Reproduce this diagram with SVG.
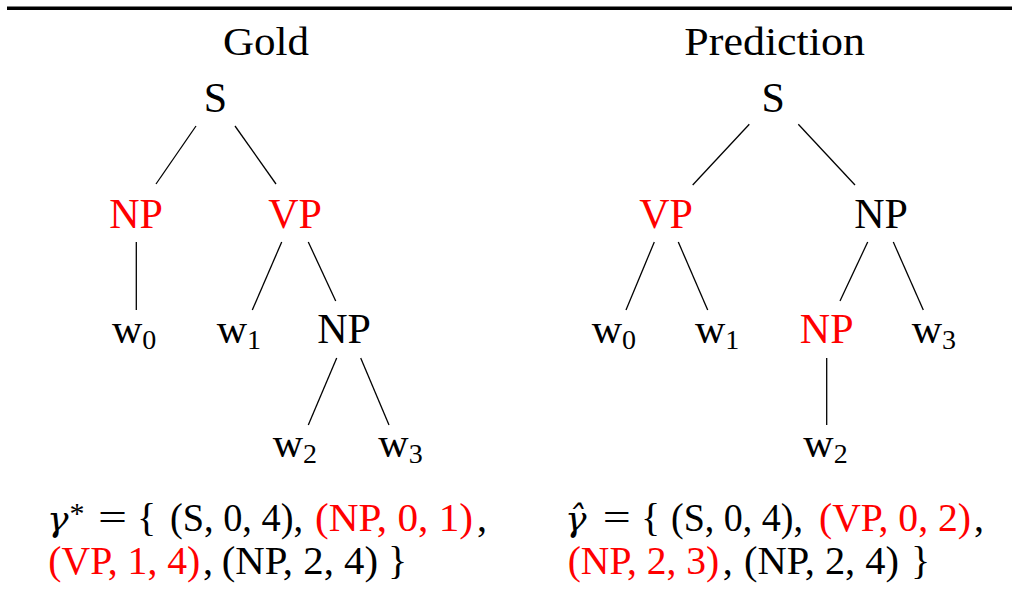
<svg xmlns="http://www.w3.org/2000/svg" width="1012" height="594" viewBox="0 0 1012 594">
<style>
text{font-family:"Liberation Serif","Times New Roman",serif;fill:#000}
.t{font-size:40px}
.n{font-size:42px;text-anchor:middle}
.w{font-size:42px}
.s{font-size:28px}
.r{fill:#ff0000}
.f{font-size:40px}
.g{font-size:36px;font-style:italic;font-family:"DejaVu Serif",serif}
.e{stroke:#000;stroke-width:1.3;fill:none}
</style>
<rect width="1012" height="594" fill="#fff"/>
<line x1="7" y1="8.3" x2="1012" y2="8.3" stroke="#000" stroke-width="3.4"/>
<text class="t" x="223" y="55" textLength="86" lengthAdjust="spacingAndGlyphs">Gold</text>
<text class="t" x="684.3" y="55" textLength="180.7" lengthAdjust="spacingAndGlyphs">Prediction</text>
<g id="connectors">
<line class="e" x1="196" y1="126" x2="156" y2="184"/>
<line class="e" x1="235" y1="126" x2="276" y2="184"/>
<line class="e" x1="136.3" y1="242" x2="136.3" y2="310"/>
<line class="e" x1="281.7" y1="242" x2="252.3" y2="310"/>
<line class="e" x1="308.3" y1="242" x2="335.7" y2="301"/>
<line class="e" x1="336.7" y1="358" x2="308.3" y2="425"/>
<line class="e" x1="360.7" y1="358" x2="389" y2="425"/>
<line class="e" x1="749.3" y1="124.3" x2="692.7" y2="185"/>
<line class="e" x1="798.3" y1="124.3" x2="855" y2="185"/>
<line class="e" x1="654.3" y1="242" x2="626" y2="310"/>
<line class="e" x1="678.3" y1="242" x2="707.7" y2="310"/>
<line class="e" x1="867.7" y1="242" x2="840" y2="301"/>
<line class="e" x1="893.3" y1="242" x2="923.3" y2="310"/>
<line class="e" x1="826.7" y1="358" x2="826.7" y2="425"/>
</g>
<g id="gold-S"><text class="n" x="215.5" y="112">S</text></g>
<g id="gold-NP1"><text class="n r" x="136" y="228">NP</text></g>
<g id="gold-VP"><text class="n r" x="295" y="228">VP</text></g>
<g id="gold-w0"><text class="w" x="112" y="343">w<tspan class="s" dy="6">0</tspan></text></g>
<g id="gold-w1"><text class="w" x="216.7" y="343">w<tspan class="s" dy="6">1</tspan></text></g>
<g id="gold-NP2"><text class="n" x="344" y="343">NP</text></g>
<g id="gold-w2"><text class="w" x="272.7" y="457">w<tspan class="s" dy="6">2</tspan></text></g>
<g id="gold-w3"><text class="w" x="378.3" y="457">w<tspan class="s" dy="6">3</tspan></text></g>
<g id="pred-S"><text class="n" x="773.3" y="112">S</text></g>
<g id="pred-VP"><text class="n r" x="666" y="228">VP</text></g>
<g id="pred-NP1"><text class="n" x="881" y="228">NP</text></g>
<g id="pred-w0"><text class="w" x="591.7" y="343">w<tspan class="s" dy="6">0</tspan></text></g>
<g id="pred-w1"><text class="w" x="695" y="343">w<tspan class="s" dy="6">1</tspan></text></g>
<g id="pred-NP2"><text class="n r" x="826.7" y="343">NP</text></g>
<g id="pred-w3"><text class="w" x="911.7" y="343">w<tspan class="s" dy="6">3</tspan></text></g>
<g id="pred-w2"><text class="w" x="803.3" y="457">w<tspan class="s" dy="6">2</tspan></text></g>
<g id="gold-formula">
<text class="g" x="47" y="531">γ<tspan font-style="normal" style="font-size:30px;font-family:'Liberation Serif',serif" dx="1" dy="-8">*</tspan></text>
<text class="f" x="98" y="531" textLength="29" lengthAdjust="spacingAndGlyphs">=</text>
<text class="f" x="137" y="531">{</text>
<text class="f" x="170" y="531" textLength="133" lengthAdjust="spacingAndGlyphs">(S, 0, 4),</text>
<text class="f r" x="315" y="531" textLength="158" lengthAdjust="spacingAndGlyphs">(NP, 0, 1)</text>
<text class="f" x="477" y="531">,</text>
<text class="f r" x="48.3" y="574" textLength="152" lengthAdjust="spacingAndGlyphs">(VP, 1, 4)</text>
<text class="f" x="203" y="574">,</text>
<text class="f" x="221.7" y="574" textLength="156.3" lengthAdjust="spacingAndGlyphs">(NP, 2, 4)</text>
<text class="f" x="388" y="574">}</text>
</g>
<g id="pred-formula">
<text class="g" x="565" y="531">γ̂</text>
<text class="f" x="602.7" y="531" textLength="28" lengthAdjust="spacingAndGlyphs">=</text>
<text class="f" x="641" y="531">{</text>
<text class="f" x="671" y="531" textLength="132" lengthAdjust="spacingAndGlyphs">(S, 0, 4),</text>
<text class="f r" x="819" y="531" textLength="152" lengthAdjust="spacingAndGlyphs">(VP, 0, 2)</text>
<text class="f" x="974" y="531">,</text>
<text class="f r" x="567.7" y="574" textLength="151.6" lengthAdjust="spacingAndGlyphs">(NP, 2, 3)</text>
<text class="f" x="722.7" y="574">,</text>
<text class="f" x="744" y="574" textLength="155" lengthAdjust="spacingAndGlyphs">(NP, 2, 4)</text>
<text class="f" x="911" y="574">}</text>
</g>
</svg>
